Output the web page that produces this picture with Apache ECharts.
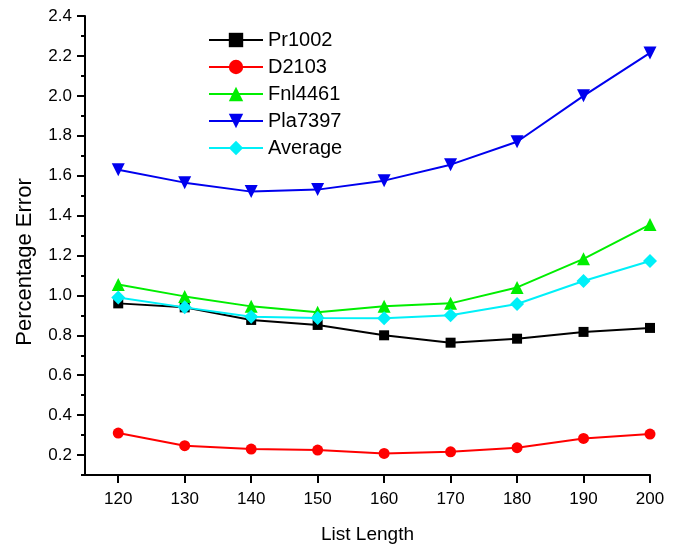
<!DOCTYPE html>
<html>
<head>
<meta charset="utf-8">
<script src="https://cdn.jsdelivr.net/npm/echarts@6/dist/echarts.min.js"></script>
<style>
  html, body { margin: 0; padding: 0; background: #fff; }
  #chart { width: 689px; height: 551px; }
</style>
</head>
<body>
<div id="chart"></div>
<script>
// list lengths on the x axis
var listLength = [120, 130, 140, 150, 160, 170, 180, 190, 200];

// percentage error per instance
var pr1002  = [0.96, 0.94, 0.877, 0.852, 0.80, 0.763, 0.783, 0.817, 0.837];
var d2103   = [0.31, 0.247, 0.23, 0.225, 0.208, 0.216, 0.237, 0.283, 0.305];
var fnl4461 = [1.055, 0.995, 0.945, 0.915, 0.945, 0.96, 1.04, 1.183, 1.355];
var pla7397 = [1.63, 1.565, 1.52, 1.53, 1.575, 1.655, 1.77, 2.0, 2.215];
var average = [0.99, 0.94, 0.893, 0.887, 0.885, 0.90, 0.957, 1.072, 1.172];

var yTicks = [0.2, 0.4, 0.6, 0.8, 1.0, 1.2, 1.4, 1.6, 1.8, 2.0, 2.2, 2.4];

var font = 'Liberation Sans, Arial, sans-serif';

function pairs(vals) {
    return vals.map(function (v, i) { return [listLength[i], v]; });
}

function mk(name, vals, color, symbol, size, rot) {
    return {
        name: name,
        type: 'line',
        data: pairs(vals),
        symbol: symbol,
        symbolSize: size,
        symbolRotate: rot || 0,
        yAxisIndex: 0,
        lineStyle: { color: color, width: 2 },
        itemStyle: { color: color },
        animation: false
    };
}

var myChart = echarts.init(document.getElementById('chart'));
var option = {
    backgroundColor: '#fff',
    grid: { left: 85, right: 39, top: 16, bottom: 76 },
    legend: {
        orient: 'vertical',
        left: 208,
        top: 30,
        padding: 0,
        itemWidth: 54,
        itemHeight: 18,
        itemGap: 7,
        textStyle: { fontSize: 20, fontFamily: font, color: '#000', lineHeight: 20 },
        data: ['Pr1002', 'D2103', 'Fnl4461', 'Pla7397', 'Average']
    },
    xAxis: {
        type: 'value',
        min: 115,
        max: 200,
        name: 'List Length',
        nameLocation: 'middle',
        nameGap: 50,
        nameTextStyle: { fontSize: 19, fontFamily: font, color: '#000' },
        splitLine: { show: false },
        axisLine: { lineStyle: { color: '#000', width: 2 } },
        axisTick: { length: 8, lineStyle: { color: '#000', width: 2 }, customValues: listLength },
        axisLabel: { customValues: listLength, margin: 16, fontSize: 17, fontFamily: font, color: '#000' }
    },
    yAxis: [{
        type: 'value',
        min: 0.1,
        max: 2.4,
        splitLine: { show: false },
        axisLine: { show: true, lineStyle: { color: '#000', width: 2 } },
        axisTick: { show: true, length: 8, lineStyle: { color: '#000', width: 2 }, customValues: yTicks },
        axisLabel: {
            customValues: yTicks, margin: 13, fontSize: 17, fontFamily: font, color: '#000',
            formatter: function (v) { return v.toFixed(1); }
        }
    }, {
        type: 'value',
        position: 'left',
        min: 0.1,
        max: 2.4,
        interval: 0.1,
        splitLine: { show: false },
        axisLine: { show: false },
        axisTick: { show: true, length: 4, lineStyle: { color: '#000', width: 2 } },
        axisLabel: { show: false }
    }],
    graphic: [{
        type: 'text',
        x: 25,
        y: 262,
        rotation: Math.PI / 2,
        style: {
            text: 'Percentage Error',
            font: '22px ' + font,
            fill: '#000',
            align: 'center',
            verticalAlign: 'middle'
        }
    }],
    series: [
        mk('Pr1002', pr1002, '#000000', 'rect', 10),
        mk('D2103', d2103, '#ff0000', 'circle', 11),
        mk('Fnl4461', fnl4461, '#00ee00', 'triangle', 13),
        mk('Pla7397', pla7397, '#0000ee', 'triangle', 13, 180),
        mk('Average', average, '#00f0f8', 'diamond', 14)
    ]
};
myChart.setOption(option);
</script>
</body>
</html>
